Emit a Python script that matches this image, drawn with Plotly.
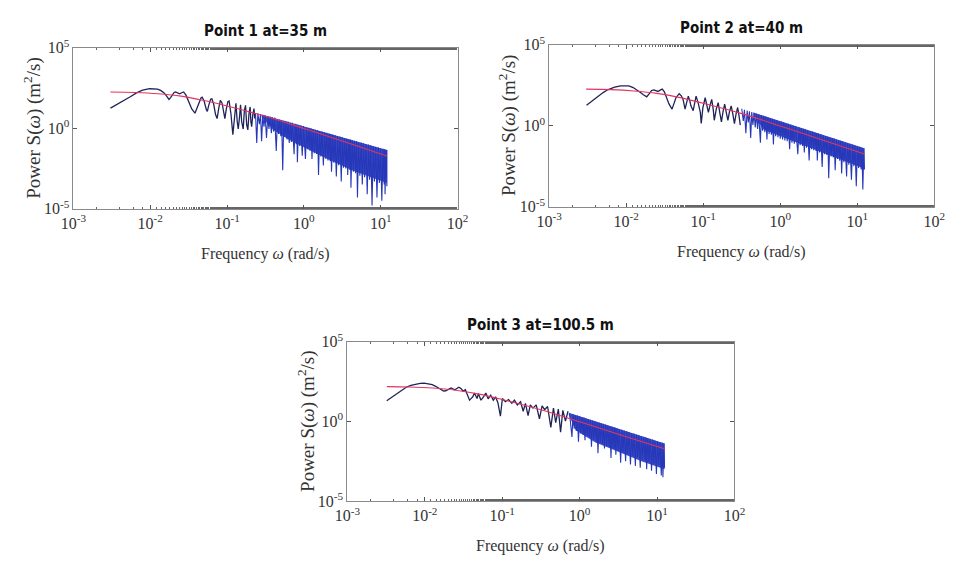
import plotly.graph_objects as go

# ---------------- data (log10 values) ----------------
# Panel 1 : Point 1 at=35 m
p1_low_logw = [-2.518, -2.430, -2.349, -2.260, -2.179, -2.100, -2.010, -1.950, -1.904, -1.860,
               -1.820, -1.785, -1.756, -1.735, -1.714, -1.690, -1.672, -1.645, -1.617, -1.590,
               -1.566, -1.535, -1.503, -1.460, -1.418, -1.390, -1.367, -1.340, -1.325, -1.300,
               -1.270, -1.257, -1.240, -1.215, -1.198, -1.175, -1.150, -1.130, -1.110, -1.088,
               -1.065, -1.045, -1.029, -1.010, -0.990, -0.974, -0.950, -0.925, -0.905, -0.885,
               -0.868, -0.855, -0.840, -0.825, -0.810, -0.790, -0.775, -0.760, -0.745, -0.730,
               -0.715, -0.700, -0.690, -0.680, -0.665, -0.650, -0.640]
p1_low_logS = [1.25, 1.48, 1.69, 1.95, 2.19, 2.36, 2.45, 2.46, 2.43, 2.33,
               2.19, 1.98, 1.79, 1.90, 2.05, 2.22, 2.25, 2.18, 2.13, 2.20,
               2.25, 2.05, 1.69, 1.20, 0.93, 1.25, 1.55, 1.88, 1.93, 1.70,
               1.15, 1.05, 1.40, 1.80, 1.82, 1.50, 0.85, 0.60, 1.20, 1.73,
               1.55, 1.10, 0.60, 1.20, 1.65, 1.69, 0.90, -0.41, 0.80, 1.55,
               0.40, -0.05, 0.60, 1.45, 0.40, -0.05, 1.10, 1.42, 0.20, -0.11,
               0.90, 1.32, 0.39, 0.09, 0.85, 1.22, 0.60]
p1_hi_logw = [-0.630, -0.614, -0.600, -0.580, -0.565, -0.551, -0.535, -0.520, -0.505, -0.487,
              -0.470, -0.455, -0.440, -0.424, -0.410, -0.395, -0.380, -0.360, -0.345, -0.330,
              -0.315, -0.300, -0.290, -0.276, -0.262, -0.248, -0.234, -0.220, -0.206, -0.191,
              -0.177, -0.163, -0.150, -0.128, -0.115, -0.100, -0.093, -0.085, -0.070, -0.055,
              -0.040, -0.022, -0.005, 0.020, 0.035, 0.050, 0.065, 0.080, 0.092, 0.105,
              0.120, 0.135, 0.150, 0.165, 0.178, 0.190, 0.205, 0.220, 0.236, 0.253,
              0.268, 0.283, 0.298, 0.313, 0.328, 0.343, 0.350, 0.359, 0.375, 0.390,
              0.405, 0.422, 0.438, 0.452, 0.470, 0.486, 0.500, 0.515, 0.530, 0.545,
              0.558, 0.570, 0.585, 0.598, 0.605, 0.612, 0.628, 0.643, 0.658, 0.672,
              0.685, 0.697, 0.712, 0.728, 0.745, 0.760, 0.775, 0.790, 0.808, 0.824,
              0.840, 0.855, 0.870, 0.887, 0.903, 0.918, 0.935, 0.951, 0.967, 0.982,
              0.998, 1.014, 1.030, 1.045, 1.050, 1.056, 1.070, 1.080, 1.080]
p1_hi_logS = [0.95, -0.91, 0.92, 0.25, 0.88, -0.81, 0.83, 0.10, 0.80, -0.61,
              0.75, -0.05, 0.72, -0.31, 0.68, -0.20, 0.66, -1.41, 0.57, -0.35,
              0.54, -0.50, 0.50, -2.61, 0.47, -0.55, 0.44, -0.70, 0.41, -0.91,
              0.36, -0.85, 0.33, -1.61, 0.28, -1.00, 0.25, -2.11, 0.22, -1.10,
              0.18, -1.71, 0.14, -1.91, 0.06, -1.30, 0.02, -1.40, 0.00, -1.91,
              -0.05, -1.55, -0.09, -1.60, -0.13, -2.90, -0.17, -1.75, -0.21, -2.31,
              -0.25, -1.90, -0.29, -2.00, -0.33, -2.05, -0.36, -2.70, -0.39, -2.15,
              -0.43, -3.00, -0.48, -2.30, -0.52, -3.30, -0.57, -2.45, -0.61, -2.50,
              -0.64, -2.90, -0.68, -2.60, -0.70, -3.70, -0.73, -2.70, -0.78, -2.80,
              -0.81, -4.30, -0.85, -2.95, -0.89, -3.50, -0.94, -3.05, -0.98, -4.10,
              -1.02, -3.20, -1.06, -4.80, -1.11, -3.30, -1.15, -4.30, -1.19, -3.40,
              -1.24, -4.50, -1.28, -3.50, -1.30, -4.10, -1.33, -3.60, -1.35]
p1_band_logw = [-0.55, -0.40, -0.20, 0.00, 0.30, 0.65, 1.08]
p1_band_top = [0.85, 0.65, 0.38, 0.11, -0.30, -0.77, -1.35]
p1_band_bot = [0.70, -0.10, -0.70, -1.15, -1.90, -2.65, -3.40]
p1_fit_logw = [-2.52, -2.20, -1.90, -1.60, -1.30, -1.00, -0.50, 0.00, 0.50, 1.08]
p1_fit_logS = [2.25, 2.22, 2.14, 1.99, 1.72, 1.38, 0.74, -0.02, -0.80, -1.72]

# Panel 2 : Point 2 at=40 m
p2_low_logw = [-2.515, -2.440, -2.367, -2.300, -2.241, -2.150, -2.072, -2.020, -1.966, -1.910,
               -1.861, -1.815, -1.777, -1.734, -1.700, -1.671, -1.641, -1.615, -1.587, -1.560,
               -1.532, -1.505, -1.481, -1.445, -1.405, -1.380, -1.355, -1.312, -1.285, -1.262,
               -1.236, -1.215, -1.194, -1.175, -1.160, -1.131, -1.110, -1.093, -1.065, -1.038,
               -1.026, -1.005, -0.975, -0.955, -0.933, -0.910, -0.890, -0.870, -0.857, -0.830,
               -0.806, -0.785, -0.764, -0.742, -0.722, -0.700, -0.680, -0.660, -0.637, -0.615,
               -0.595, -0.575, -0.553, -0.535, -0.519]
p2_low_logS = [1.27, 1.55, 1.83, 2.05, 2.22, 2.38, 2.46, 2.48, 2.46, 2.36,
               2.22, 2.06, 1.92, 1.79, 1.98, 2.18, 2.22, 2.16, 2.12, 2.20,
               2.26, 2.10, 1.83, 1.35, 1.03, 1.40, 1.73, 1.98, 1.85, 1.63,
               1.03, 1.45, 1.83, 1.55, 1.23, 0.93, 1.45, 1.83, 1.40, 0.83,
               0.14, 1.10, 1.73, 1.30, 0.83, 1.30, 1.63, 1.00, 0.34, 1.05,
               1.43, 0.80, 0.24, 0.90, 1.33, 0.80, 0.34, 0.85, 1.23, 0.70,
               0.14, 0.70, 1.13, 0.60, 0.04]
p2_hi_logw = [-0.500, -0.480, -0.465, -0.447, -0.430, -0.415, -0.400, -0.384, -0.370, -0.355,
              -0.340, -0.325, -0.310, -0.295, -0.280, -0.258, -0.245, -0.230, -0.215, -0.200,
              -0.188, -0.173, -0.160, -0.145, -0.130, -0.115, -0.102, -0.089, -0.075, -0.060,
              -0.045, -0.030, -0.015, 0.000, 0.015, 0.030, 0.045, 0.060, 0.075, 0.090,
              0.105, 0.122, 0.137, 0.152, 0.167, 0.182, 0.200, 0.228, 0.243, 0.258,
              0.273, 0.290, 0.300, 0.312, 0.325, 0.340, 0.357, 0.375, 0.390, 0.405,
              0.420, 0.435, 0.450, 0.465, 0.473, 0.481, 0.495, 0.510, 0.527, 0.544,
              0.560, 0.575, 0.590, 0.605, 0.617, 0.629, 0.645, 0.660, 0.675, 0.690,
              0.700, 0.713, 0.728, 0.743, 0.758, 0.772, 0.785, 0.797, 0.812, 0.826,
              0.842, 0.861, 0.875, 0.890, 0.905, 0.924, 0.940, 0.955, 0.970, 0.987,
              1.002, 1.017, 1.032, 1.050, 1.060, 1.072, 1.085, 1.093]
p2_hi_logS = [1.05, 0.30, 0.99, -0.46, 0.94, 0.20, 0.89, -0.75, 0.85, 0.05,
              0.80, -0.10, 0.76, -0.20, 0.71, -1.05, 0.66, -0.30, 0.61, -0.40,
              0.57, -0.85, 0.53, -0.50, 0.48, -0.55, 0.44, -1.15, 0.39, -0.65,
              0.35, -0.70, 0.30, -0.80, 0.26, -0.85, 0.21, -0.90, 0.16, -0.95,
              0.12, -1.45, 0.07, -1.05, 0.02, -1.10, -0.03, -1.75, -0.09, -1.20,
              -0.14, -1.25, -0.18, -1.65, -0.22, -1.35, -0.27, -2.14, -0.32, -1.45,
              -0.36, -1.50, -0.41, -1.55, -0.45, -2.14, -0.48, -1.65, -0.53, -2.54,
              -0.58, -1.75, -0.63, -1.80, -0.67, -3.23, -0.71, -1.90, -0.76, -1.95,
              -0.79, -2.74, -0.84, -2.05, -0.88, -2.15, -0.93, -2.94, -0.97, -2.25,
              -1.01, -3.13, -1.06, -2.40, -1.11, -3.33, -1.16, -2.50, -1.21, -3.73,
              -1.26, -2.60, -1.30, -2.70, -1.35, -3.93, -1.38, -2.70]
p2_band_logw = [-0.35, -0.215, 0.207, 0.629, 1.093]
p2_band_top = [0.82, 0.61, -0.04, -0.69, -1.39]
p2_band_bot = [0.70, -0.25, -1.05, -1.80, -2.65]
p2_fit_logw = [-2.52, -2.20, -1.90, -1.60, -1.30, -1.00, -0.50, 0.00, 0.50, 1.093]
p2_fit_logS = [2.26, 2.23, 2.15, 2.00, 1.74, 1.39, 0.75, -0.01, -0.80, -1.74]

# Panel 3 : Point 3 at=100.5 m
p3_low_logw = [-2.492, -2.430, -2.366, -2.300, -2.240, -2.180, -2.114, -2.060, -2.009, -1.955,
               -1.904, -1.860, -1.820, -1.757, -1.730, -1.703, -1.661, -1.611, -1.585, -1.560,
               -1.530, -1.506, -1.476, -1.451, -1.422, -1.400, -1.380, -1.359, -1.325, -1.308,
               -1.275, -1.241, -1.212, -1.182, -1.149, -1.115, -1.086, -1.056, -1.023, -0.998,
               -0.960, -0.918, -0.876, -0.842, -0.805, -0.763, -0.729, -0.700, -0.666, -0.637,
               -0.603, -0.561, -0.519, -0.485, -0.452, -0.414, -0.372, -0.338, -0.309, -0.275,
               -0.246, -0.217, -0.183, -0.150]
p3_low_logS = [1.30, 1.52, 1.75, 1.97, 2.15, 2.27, 2.35, 2.39, 2.41, 2.37,
               2.31, 2.21, 2.09, 1.91, 1.93, 1.99, 2.11, 1.99, 2.05, 2.15,
               2.05, 1.91, 1.99, 1.71, 1.34, 1.45, 1.55, 1.79, 1.44, 1.75,
               1.34, 1.55, 1.79, 1.42, 1.65, 1.34, 1.55, 1.18, 0.33, 1.44,
               1.24, 1.38, 1.14, 1.34, 1.04, 1.24, 0.64, 1.14, 0.37, 1.04,
               0.84, 1.04, 0.17, 0.98, 0.74, 0.94, -0.37, 0.84, -0.07, 0.78,
               -0.68, 0.70, 0.03, 0.64]
p3_hi_logw = [-0.130, -0.115, -0.099, -0.085, -0.070, -0.057, -0.042, -0.028, -0.015, 0.000,
              0.015, 0.030, 0.045, 0.057, 0.069, 0.083, 0.098, 0.112, 0.126, 0.140,
              0.153, 0.168, 0.183, 0.197, 0.212, 0.225, 0.237, 0.252, 0.266, 0.280,
              0.295, 0.308, 0.321, 0.335, 0.350, 0.365, 0.380, 0.392, 0.405, 0.418,
              0.432, 0.445, 0.455, 0.460, 0.468, 0.482, 0.497, 0.512, 0.530, 0.545,
              0.560, 0.575, 0.594, 0.608, 0.622, 0.638, 0.657, 0.672, 0.686, 0.702,
              0.720, 0.735, 0.750, 0.765, 0.783, 0.798, 0.812, 0.828, 0.845, 0.855,
              0.866, 0.880, 0.895, 0.910, 0.929, 0.944, 0.958, 0.973, 0.992, 1.007,
              1.022, 1.038, 1.055, 1.066, 1.076, 1.090, 1.097]
p3_hi_logS = [0.52, -0.30, -0.98, 0.45, -0.45, 0.41, -0.60, 0.37, -1.28, 0.32,
              -0.75, 0.28, -0.85, 0.24, -1.18, 0.19, -0.95, 0.15, -1.00, 0.11,
              -1.59, 0.06, -1.15, 0.02, -1.25, -0.03, -1.99, -0.07, -1.35, -0.11,
              -1.45, -0.15, -1.69, -0.20, -1.55, -0.24, -1.60, -0.28, -2.29, -0.32,
              -1.70, -0.37, -1.75, -0.39, -2.09, -0.42, -1.85, -0.47, -2.60, -0.52,
              -1.95, -0.57, -2.50, -0.62, -2.05, -0.67, -2.70, -0.72, -2.15, -0.76,
              -2.80, -0.82, -2.25, -0.86, -2.90, -0.91, -2.40, -0.96, -2.45, -1.00,
              -3.00, -1.04, -2.55, -1.09, -3.10, -1.14, -2.65, -1.19, -3.30, -1.24,
              -2.75, -1.29, -3.40, -1.33, -3.50, -1.37, -2.90]
p3_band_logw = [-0.14, -0.05, 0.20, 0.50, 0.80, 1.097]
p3_band_top = [0.54, 0.40, 0.01, -0.45, -0.92, -1.38]
p3_band_bot = [0.40, -0.55, -1.30, -1.90, -2.50, -3.00]
p3_fit_logw = [-2.49, -2.20, -1.90, -1.60, -1.30, -1.00, -0.50, 0.00, 0.50, 1.097]
p3_fit_logS = [2.19, 2.17, 2.10, 1.96, 1.72, 1.38, 0.74, -0.02, -0.80, -1.72]

titles = ["Point 1 at=35 m", "Point 2 at=40 m", "Point 3 at=100.5 m"]
x_tick_vals = [1e-3, 1e-2, 1e-1, 1e0, 1e1, 1e2]
x_tick_text = ["10<sup>-3</sup>", "10<sup>-2</sup>", "10<sup>-1</sup>",
               "10<sup>0</sup>", "10<sup>1</sup>", "10<sup>2</sup>"]
y_tick_vals = [1e-5, 1e0, 1e5]
y_tick_text = ["10<sup>-5</sup>", "10<sup>0</sup>", "10<sup>5</sup>"]
x_title = "Frequency <i>ω</i> (rad/s)"
y_title = "Power S(<i>ω</i>) (m<sup>2</sup>/s)"

# ---------------- figure ----------------
W, H = 957, 566
SERIF = "Liberation Serif, Times New Roman, serif"
NARROW = "Liberation Sans Narrow, Arial Narrow, DejaVu Sans Condensed, sans-serif"

BLUE_BAND = "rgba(44,62,198,0.93)"
BLUE_LINE = "#2638b8"
DARK_LINE = "#1e2458"
RED = "#e6335c"


def pw(vals):
    return [10 ** v for v in vals]


panels = [
    dict(low=(p1_low_logw, p1_low_logS), hi=(p1_hi_logw, p1_hi_logS),
         band=(p1_band_logw, p1_band_top, p1_band_bot), fit=(p1_fit_logw, p1_fit_logS),
         box=(62, 456, 38, 205)),
    dict(low=(p2_low_logw, p2_low_logS), hi=(p2_hi_logw, p2_hi_logS),
         band=(p2_band_logw, p2_band_top, p2_band_bot), fit=(p2_fit_logw, p2_fit_logS),
         box=(550, 945, 35, 203)),
    dict(low=(p3_low_logw, p3_low_logS), hi=(p3_hi_logw, p3_hi_logS),
         band=(p3_band_logw, p3_band_top, p3_band_bot), fit=(p3_fit_logw, p3_fit_logS),
         box=(343, 740, 343, 508)),
]

fig = go.Figure()
annotations = []

for i, p in enumerate(panels):
    sfx = "" if i == 0 else str(i + 1)
    xa, ya = "x" + sfx, "y" + sfx
    lw, top, bot = p["band"]
    fig.add_trace(go.Scatter(x=pw(lw + lw[::-1]), y=pw(top + bot[::-1]), fill="toself",
                             fillcolor=BLUE_BAND, line=dict(width=0), mode="lines",
                             xaxis=xa, yaxis=ya, hoverinfo="skip"))
    fig.add_trace(go.Scatter(x=pw(p["hi"][0]), y=pw(p["hi"][1]), mode="lines",
                             line=dict(color=BLUE_LINE, width=1.1), xaxis=xa, yaxis=ya))
    fig.add_trace(go.Scatter(x=pw(p["low"][0]), y=pw(p["low"][1]), mode="lines",
                             line=dict(color=DARK_LINE, width=1.3), xaxis=xa, yaxis=ya))
    fig.add_trace(go.Scatter(x=pw(p["fit"][0]), y=pw(p["fit"][1]), mode="lines",
                             line=dict(color=RED, width=1.1, shape="spline"), xaxis=xa, yaxis=ya))

    x0, x1, y0, y1 = p["box"]
    dom_x = [x0 / W, x1 / W]
    dom_y = [1 - y1 / H, 1 - y0 / H]
    axis_common = dict(type="log", showgrid=False, zeroline=False, showline=True,
                       linecolor="#8a8a8a", linewidth=1, mirror="ticks", ticks="inside",
                       tickcolor="#555", ticklen=4,
                       tickfont=dict(family=SERIF, size=16, color="#333"))
    fig.layout["xaxis" + sfx] = dict(axis_common, domain=dom_x, range=[-3, 2],
                                     tickvals=x_tick_vals, ticktext=x_tick_text,
                                     anchor=ya,
                                     minor=dict(ticks="inside", ticklen=2, tickcolor="#666",
                                                showgrid=False))
    fig.layout["yaxis" + sfx] = dict(axis_common, domain=dom_y, range=[-5, 5],
                                     tickvals=y_tick_vals, ticktext=y_tick_text,
                                     anchor=xa)

    cx = (x0 + x1) / 2
    annotations.append(dict(text="<b>" + titles[i] + "</b>", x=cx / W, y=1 - (y0 - 17) / H,
                            xref="paper", yref="paper", showarrow=False,
                            xanchor="center", yanchor="middle",
                            font=dict(family=NARROW, size=15, color="#111")))
    annotations.append(dict(text=x_title, x=cx / W, y=1 - (y1 + 47) / H,
                            xref="paper", yref="paper", showarrow=False,
                            xanchor="center", yanchor="middle",
                            font=dict(family=SERIF, size=16, color="#333")))
    annotations.append(dict(text=y_title, x=(x0 - 42) / W, y=1 - ((y0 + y1) / 2) / H,
                            xref="paper", yref="paper", showarrow=False, textangle=-90,
                            xanchor="center", yanchor="middle",
                            font=dict(family=SERIF, size=19, color="#333")))

fig.update_layout(width=W, height=H, margin=dict(l=0, r=0, t=0, b=0),
                  paper_bgcolor="white", plot_bgcolor="white", showlegend=False,
                  annotations=annotations)

fig.write_html("out.html")
